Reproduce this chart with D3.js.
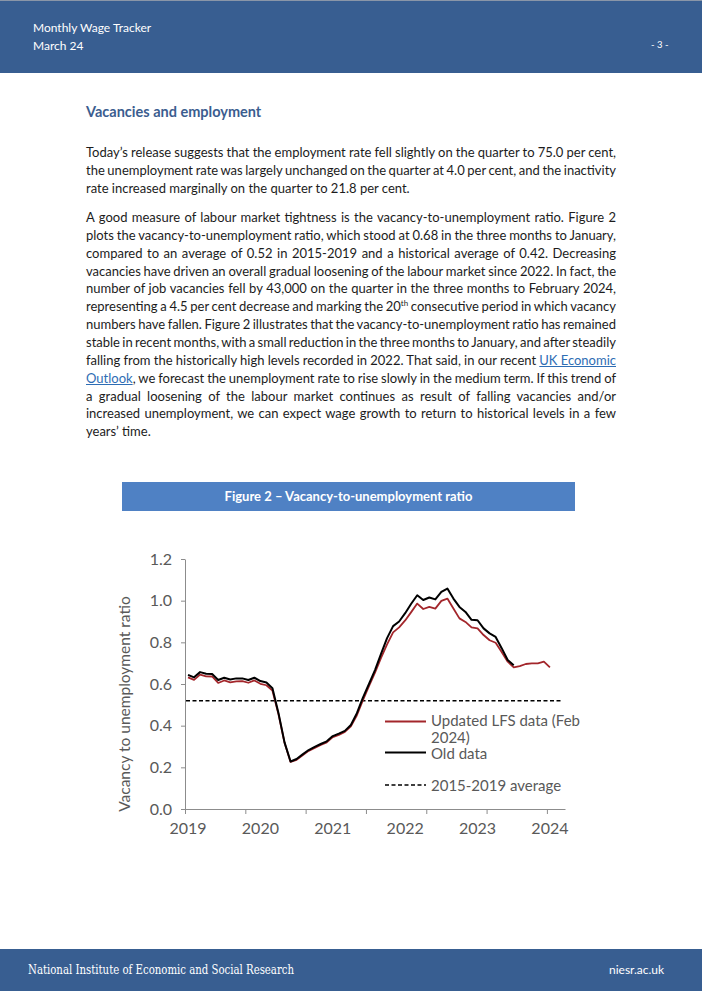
<!DOCTYPE html>
<html>
<head>
<meta charset="utf-8">
<script src="https://cdn.jsdelivr.net/npm/d3@7"></script>
<style>
  html, body { margin: 0; padding: 0; background: #fff; }
  #page { position: relative; width: 702px; height: 991px; overflow: hidden; font-family: Lato, "Open Sans", sans-serif; }
  #chart { position: absolute; left: 0; top: 0; }
  .line { position: absolute; left: 86px; width: 530px; height: 18px; line-height: 18px; font-size: 13px; color: #1c1c1c; white-space: nowrap; }
  .line span.t { display: inline-block; white-space: nowrap; }
  .line a { color: #2e6db4; text-decoration: underline; }
  .line sup { font-size: 8px; line-height: 0; vertical-align: 5px; }
  #heading { position: absolute; left: 86px; top: 103px; font-size: 14.5px; font-weight: bold; color: #3b5d8f; }
</style>
</head>
<body>
<div id="page">
  <svg id="chart" width="702" height="991"></svg>
  <div id="heading">Vacancies and employment</div>
</div>
<script>
// ---------------- data ----------------
const yearLabels = ["2019", "2020", "2021", "2022", "2023", "2024"];
const yTickValues = [0, 0.2, 0.4, 0.6, 0.8, 1.0, 1.2];
const seriesNames = ["Updated LFS data (Feb 2024)", "Old data", "2015-2019 average"];

// Monthly vacancy-to-unemployment ratio, Jan 2019 onward (updated LFS data, Feb 2024)
const updatedLFS = [
  0.632, 0.620, 0.645, 0.637, 0.636, 0.605, 0.617, 0.608, 0.613, 0.614, 0.606, 0.617,
  0.601, 0.594, 0.568, 0.455, 0.318, 0.226, 0.236, 0.258, 0.279, 0.293, 0.307, 0.320,
  0.345, 0.356, 0.370, 0.397, 0.450, 0.522, 0.590, 0.655, 0.725, 0.790, 0.848, 0.872,
  0.905, 0.945, 0.986, 0.960, 0.970, 0.962, 0.999, 1.010, 0.962, 0.915, 0.898, 0.872,
  0.867, 0.835, 0.810, 0.798, 0.754, 0.707, 0.680, 0.686, 0.696, 0.699, 0.699, 0.707,
  0.680
];
// Old data, Jan 2019 – Jul 2023
const oldData = [
  0.644, 0.632, 0.657, 0.649, 0.648, 0.619, 0.630, 0.622, 0.627, 0.627, 0.619, 0.630,
  0.614, 0.607, 0.580, 0.460, 0.320, 0.228, 0.240, 0.262, 0.283, 0.298, 0.312, 0.325,
  0.350, 0.362, 0.375, 0.403, 0.460, 0.535, 0.600, 0.667, 0.745, 0.820, 0.878, 0.900,
  0.940, 0.985, 1.026, 1.003, 1.015, 1.006, 1.042, 1.058, 1.010, 0.970, 0.946, 0.908,
  0.906, 0.867, 0.843, 0.826, 0.772, 0.715, 0.690
];
const average2015_2019 = 0.52;

// Category axis: Jan 2019 – Mar 2024
const months = d3.timeMonth.range(new Date(2019, 0, 1), new Date(2024, 3, 1)).map(d3.timeFormat("%Y-%m"));

// ---------------- text ----------------
const para1 = [
  "Today’s release suggests that the employment rate fell slightly on the quarter to 75.0 per cent,",
  "the unemployment rate was largely unchanged on the quarter at 4.0 per cent, and the inactivity",
  "rate increased marginally on the quarter to 21.8 per cent."
];
const para2 = [
  "A good measure of labour market tightness is the vacancy-to-unemployment ratio. Figure 2",
  "plots the vacancy-to-unemployment ratio, which stood at 0.68 in the three months to January,",
  "compared to an average of 0.52 in 2015-2019 and a historical average of 0.42. Decreasing",
  "vacancies have driven an overall gradual loosening of the labour market since 2022. In fact, the",
  "number of job vacancies fell by 43,000 on the quarter in the three months to February 2024,",
  "representing a 4.5 per cent decrease and marking the 20<sup>th</sup> consecutive period in which vacancy",
  "numbers have fallen. Figure 2 illustrates that the vacancy-to-unemployment ratio has remained",
  "stable in recent months, with a small reduction in the three months to January, and after steadily",
  "falling from the historically high levels recorded in 2022. That said, in our recent <a>UK Economic</a>",
  "<a>Outlook</a>, we forecast the unemployment rate to rise slowly in the medium term. If this trend of",
  "a gradual loosening of the labour market continues as result of falling vacancies and/or",
  "increased unemployment, we can expect wage growth to return to historical levels in a few",
  "years’ time."
];

const page = d3.select("#page");
function addPara(lines, startCenter, step) {
  lines.forEach((txt, i) => {
    const div = page.append("div").attr("class", "line").style("top", (startCenter + i * step - 9) + "px");
    const span = div.append("span").attr("class", "t").html(txt);
    if (i < lines.length - 1) {
      const w = span.node().getBoundingClientRect().width;
      const spaces = (txt.replace(/<[^>]+>/g, "").match(/ /g) || []).length;
      if (spaces > 0) span.style("word-spacing", ((530 - w) / spaces) + "px");
    }
  });
}
addPara(para1, 152, 18);
addPara(para2, 217, 17.85);

// ---------------- svg ----------------
const svg = d3.select("#chart");
const blue = "#385e91";

// header
svg.append("rect").attr("x", 0).attr("y", 0).attr("width", 702).attr("height", 73).attr("fill", blue);
svg.append("line").attr("x1", 0).attr("x2", 702).attr("y1", 0.5).attr("y2", 0.5).attr("stroke", "#8a96a8");
svg.append("text").attr("x", 33).attr("y", 32).attr("fill", "#fff").attr("font-size", 12).attr("font-family", "Lato").text("Monthly Wage Tracker");
svg.append("text").attr("x", 33).attr("y", 50).attr("fill", "#fff").attr("font-size", 12).attr("font-family", "Lato").text("March 24");
svg.append("text").attr("x", 651).attr("y", 48).attr("fill", "#fff").attr("font-size", 9.5).attr("font-family", "Lato").text("- 3 -");

// footer
svg.append("rect").attr("x", 0).attr("y", 949).attr("width", 702).attr("height", 42).attr("fill", blue);
svg.append("text").attr("x", 28).attr("y", 974).attr("fill", "#fff").attr("font-size", 12.5)
  .attr("font-family", "'DejaVu Serif', serif").attr("textLength", 266).attr("lengthAdjust", "spacingAndGlyphs")
  .text("National Institute of Economic and Social Research");
svg.append("text").attr("x", 609).attr("y", 974).attr("fill", "#fff").attr("font-size", 12).attr("font-family", "Lato").text("niesr.ac.uk");

// figure title
svg.append("rect").attr("x", 122).attr("y", 482).attr("width", 453).attr("height", 29).attr("fill", "#4f81c4");
svg.append("text").attr("x", 348.5).attr("y", 500.5).attr("text-anchor", "middle").attr("fill", "#fff")
  .attr("font-size", 13).attr("font-weight", "bold").attr("font-family", "Lato").text("Figure 2 – Vacancy-to-unemployment ratio");

// scales
const x = d3.scaleBand().domain(months).range([185, 565]).padding(0);
const bw = x.bandwidth();
const y = d3.scaleLinear().domain([0, 1.2]).range([809, 559]);
const xIdx = d3.scaleLinear().domain([0, months.length]).range(x.range());

const axisColor = "#8c8c8c";
const labelColor = "#595959";

// y axis
const gy = svg.append("g").attr("transform", "translate(185,0)")
  .call(d3.axisLeft(y).tickValues(yTickValues).tickFormat(d3.format(".1f")).tickSize(4).tickPadding(9).tickSizeOuter(0));
gy.select(".domain").attr("stroke", axisColor);
gy.selectAll(".tick line").attr("stroke", axisColor);
gy.selectAll(".tick text").attr("fill", labelColor).attr("font-size", 16).attr("font-family", "Lato");

// x axis (ticks every 10 categories, labels every January)
const gx = svg.append("g").attr("transform", "translate(0,809)")
  .call(d3.axisBottom(xIdx).tickValues(d3.range(0, 61, 10)).tickFormat("").tickSize(5).tickSizeOuter(0));
gx.select(".domain").attr("stroke", axisColor);
gx.selectAll(".tick line").attr("stroke", axisColor);

const janMonths = months.filter(m => m.endsWith("-01"));
const gxl = svg.append("g").attr("transform", "translate(0,809)")
  .call(d3.axisBottom(x).tickValues(janMonths).tickFormat((d, i) => yearLabels[i]).tickSize(0).tickPadding(14));
gxl.select(".domain").remove();
gxl.selectAll(".tick text").attr("fill", labelColor).attr("font-size", 16).attr("font-family", "Lato");

// y title
svg.append("text").attr("transform", "translate(130,704) rotate(-90)").attr("text-anchor", "middle")
  .attr("fill", labelColor).attr("font-size", 15.5).attr("font-family", "Lato").text("Vacancy to unemployment ratio");

// average line
svg.append("line")
  .attr("x1", x.range()[0] + 1).attr("x2", x.range()[1] - 3)
  .attr("y1", y(average2015_2019)).attr("y2", y(average2015_2019))
  .attr("stroke", "#000").attr("stroke-width", 1.5).attr("stroke-dasharray", "4,2.5");

const line = d3.line().x((d, i) => x(months[i]) + bw / 2).y(d => y(d));
const red = "#a3262b";
svg.append("path").datum(updatedLFS).attr("d", line).attr("fill", "none").attr("stroke", red).attr("stroke-width", 1.8).attr("stroke-linejoin", "round");
svg.append("path").datum(oldData).attr("d", line).attr("fill", "none").attr("stroke", "#000").attr("stroke-width", 2).attr("stroke-linejoin", "round");

// legend
const lg = svg.append("g").attr("font-family", "Lato").attr("font-size", 15).attr("fill", labelColor);
lg.append("line").attr("x1", 385).attr("x2", 426).attr("y1", 721.5).attr("y2", 721.5).attr("stroke", red).attr("stroke-width", 1.8);
lg.append("text").attr("x", 431).attr("y", 726).text("Updated LFS data (Feb");
lg.append("text").attr("x", 431).attr("y", 742.5).text("2024)");
lg.append("line").attr("x1", 385).attr("x2", 426).attr("y1", 752.5).attr("y2", 752.5).attr("stroke", "#000").attr("stroke-width", 2);
lg.append("text").attr("x", 431).attr("y", 759).text("Old data");
lg.append("line").attr("x1", 385).attr("x2", 426).attr("y1", 785).attr("y2", 785).attr("stroke", "#000").attr("stroke-width", 1.5).attr("stroke-dasharray", "4,2.5");
lg.append("text").attr("x", 431).attr("y", 791).text("2015-2019 average");
</script>
</body>
</html>
